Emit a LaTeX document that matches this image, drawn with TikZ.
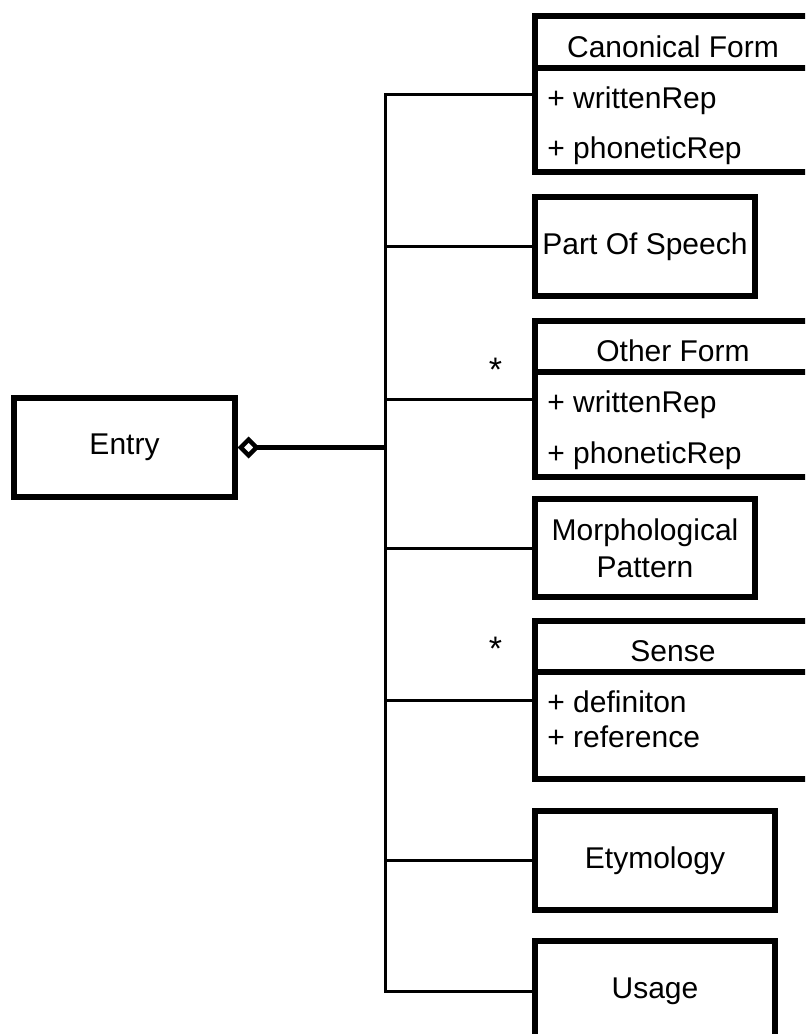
\documentclass[tikz,border=0pt]{standalone}
\usepackage{fontspec}
\setmainfont{Liberation Sans}
\usetikzlibrary{arrows.meta, positioning, calc}
\tikzset{
    umlbox/.style={
        rectangle,
        draw=black,
        fill=white,
        line width=2.6pt,
        outer sep=0pt,
        inner sep=0pt,
        align=center,
        font=\fontsize{15}{18.5}\selectfont
    },
    classbox/.style={
        umlbox,
        minimum width=138pt,
        minimum height=78pt
    },
    classname/.style={
        anchor=base,
        inner sep=0pt,
        font=\fontsize{15}{18}\selectfont
    },
    attr/.style={
        anchor=base west,
        inner sep=0pt,
        font=\fontsize{15}{18}\selectfont
    },
    mult/.style={
        anchor=base,
        inner sep=0pt,
        font=\fontsize{17}{18}\selectfont
    },
    branch/.style={
        draw=black,
        line width=1.5pt
    },
    aggregation/.style={
        {Diamond[open, length=11pt, width=11pt, line width=2.2pt]}-,
        draw=black,
        line width=2.5pt
    }
}

\begin{document}
\begin{tikzpicture}
    \useasboundingbox (0,0) rectangle (402.5pt,-517pt);
    \clip (0,0) rectangle (402.5pt,-517pt);

    % Nodes
    \node[umlbox, minimum width=110.5pt, minimum height=49.5pt, outer sep=1.3pt] (entry) at (62.25pt,-223.75pt) {Entry};
    \coordinate (trunk) at (192.5pt,0);

    \node[classbox, anchor=north west] (canon) at (267.5pt,-8pt) {};
    \node[umlbox, minimum width=110pt, minimum height=49.5pt, below=12.5pt of canon.south west, anchor=north west] (pos) {Part Of Speech};
    \node[classbox, below=12.5pt of pos.south west, anchor=north west] (other) {};
    \node[umlbox, minimum width=110pt, minimum height=49pt, below=11pt of other.south west, anchor=north west] (morph) {Morphological\\Pattern};
    \node[classbox, minimum height=79pt, below=12pt of morph.south west, anchor=north west] (sense) {};
    \node[umlbox, minimum width=120pt, minimum height=49.5pt, below=16pt of sense.south west, anchor=north west] (etym) {Etymology};
    \node[umlbox, minimum width=120pt, minimum height=50pt, below=15.5pt of etym.south west, anchor=north west] (usage) {Usage};

    % Class compartments
    \node[classname] (canonname) at ($(canon.north)+(0,-20.5pt)$) {Canonical Form};
    \draw[line width=2.6pt] ($(canon.north west)+(0,-26pt)$) -- ($(canon.north east)+(0,-26pt)$);
    \node[attr] (canonwritten) at ($(canon.north west)+(6pt,-46pt)$) {+ writtenRep};
    \node[attr] (canonphonetic) at ($(canon.north west)+(6pt,-71pt)$) {+ phoneticRep};

    \node[classname] (othername) at ($(other.north)+(0,-20pt)$) {Other Form};
    \draw[line width=2.6pt] ($(other.north west)+(0,-25.5pt)$) -- ($(other.north east)+(0,-25.5pt)$);
    \node[attr] (otherwritten) at ($(other.north west)+(6pt,-45.5pt)$) {+ writtenRep};
    \node[attr] (otherphonetic) at ($(other.north west)+(6pt,-71pt)$) {+ phoneticRep};

    \node[classname] (sensename) at ($(sense.north)+(0,-20pt)$) {Sense};
    \draw[line width=2.6pt] ($(sense.north west)+(0,-25.5pt)$) -- ($(sense.north east)+(0,-25.5pt)$);
    \node[attr] (sensedef) at ($(sense.north west)+(6pt,-45.5pt)$) {+ definiton};
    \node[attr] (senseref) at ($(sense.north west)+(6pt,-63pt)$) {+ reference};

    % Multiplicities
    \node[mult] (othermult) at ($(other.north west)+(-19.75pt,-30pt)$) {*};
    \node[mult] (sensemult) at ($(sense.north west)+(-19.75pt,-19.5pt)$) {*};

    % Paths
    \draw[branch] (canon.west) -- (canon.west -| trunk) -- (usage.west -| trunk) -- (usage.west);
    \draw[branch] (pos.west) -- (pos.west -| trunk);
    \draw[branch] (other.west) -- (other.west -| trunk);
    \draw[branch] (morph.west) -- (morph.west -| trunk);
    \draw[branch] (sense.west) -- (sense.west -| trunk);
    \draw[branch] (etym.west) -- (etym.west -| trunk);

    \draw[aggregation] (entry.east) -- (entry.east -| trunk);

\end{tikzpicture}
\end{document}
